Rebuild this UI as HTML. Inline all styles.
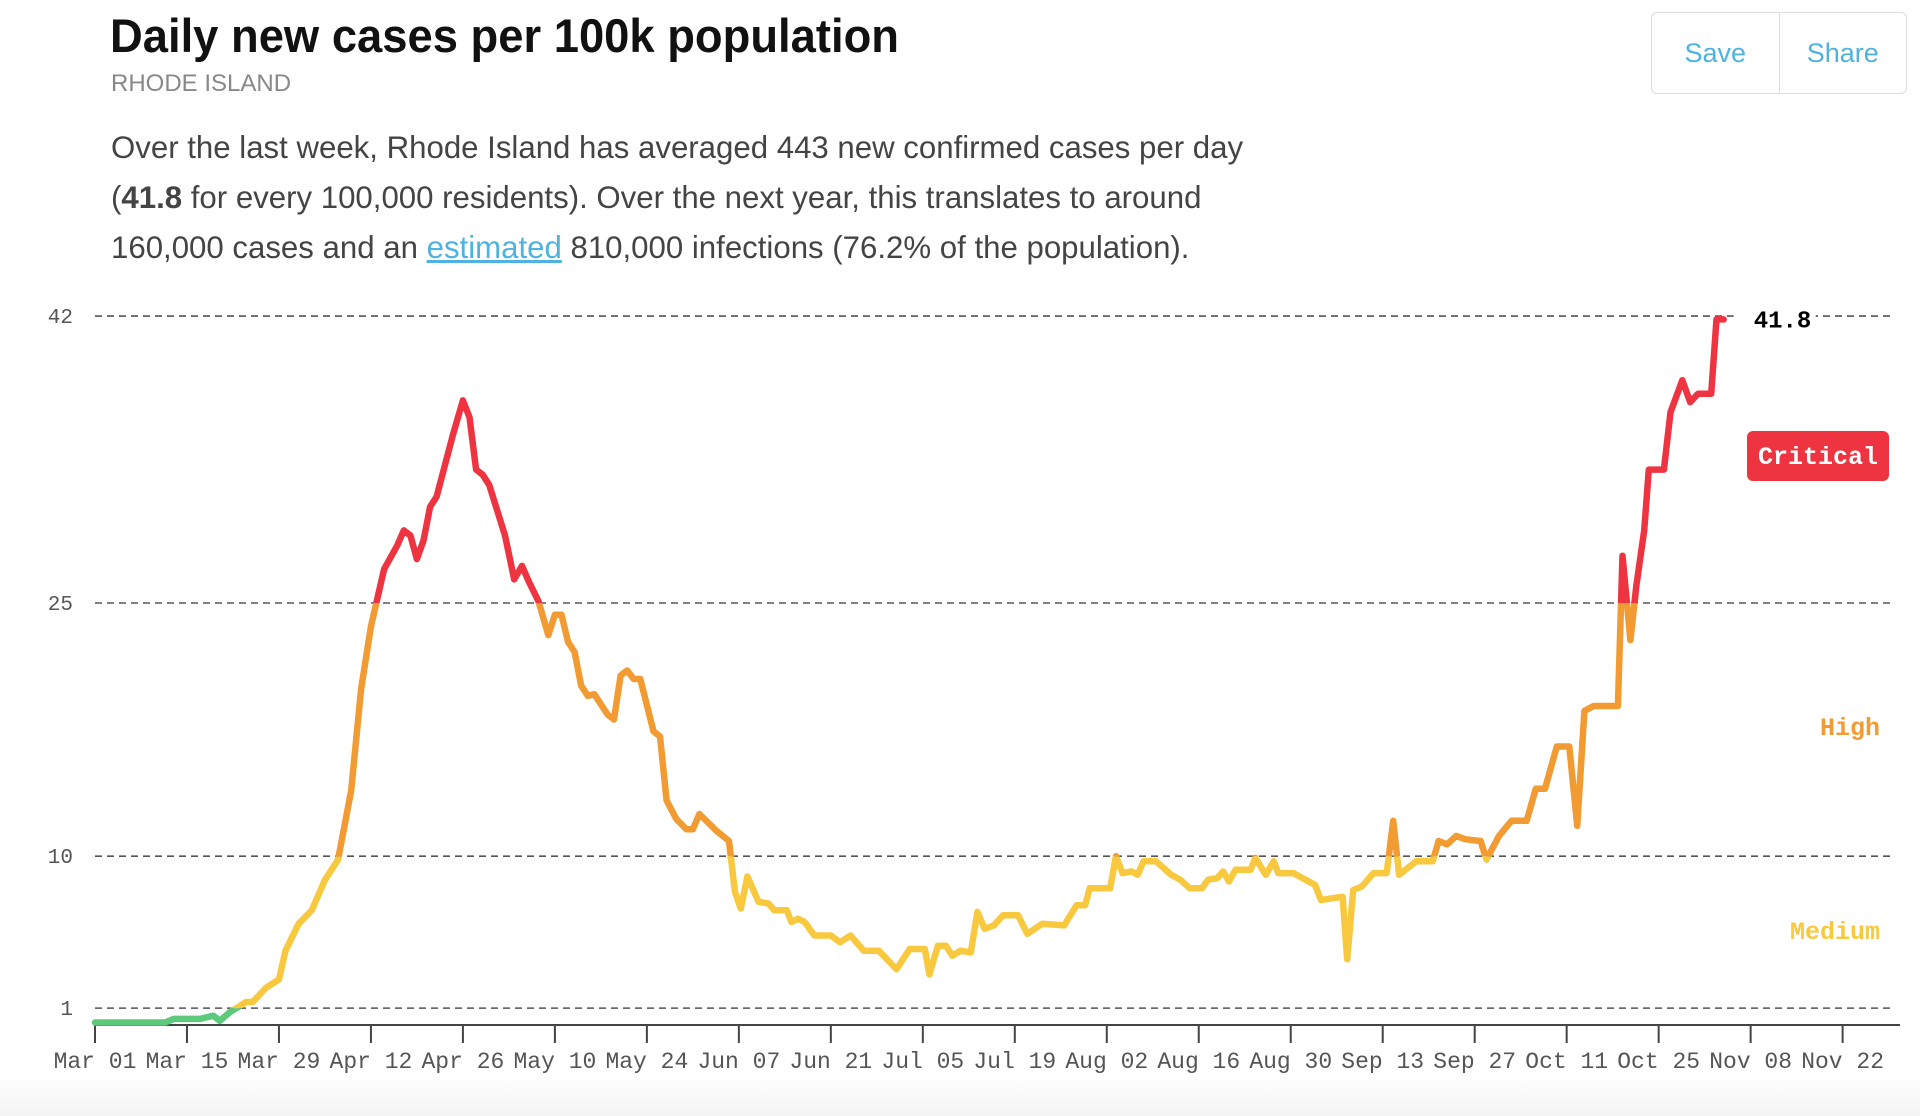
<!DOCTYPE html>
<html><head><meta charset="utf-8">
<style>
html,body{margin:0;padding:0;background:#fff;}
body{width:1920px;height:1116px;position:relative;overflow:hidden;font-family:"Liberation Sans",sans-serif;}
#title{position:absolute;left:110px;top:8px;font-size:47px;font-weight:bold;color:#111;white-space:nowrap;transform:scaleX(0.965);transform-origin:left top;margin:0;}
#sub{position:absolute;left:111px;top:70px;font-size:24px;color:#888;}
#desc{position:absolute;left:111px;top:123px;font-size:31.2px;line-height:50px;color:#444;width:1400px;}
#desc a{color:#4fb3e0;text-decoration:underline;}
#btns{position:absolute;left:1651px;top:12px;width:256px;height:82px;border:1.5px solid #ddd;border-radius:6px;display:flex;box-sizing:border-box;}
#btns div{flex:1;display:flex;align-items:center;justify-content:center;color:#4fb3e0;font-size:27px;}
#btns div+div{border-left:1.5px solid #ddd;}
#fade{position:absolute;left:0;top:1075px;width:1920px;height:41px;background:linear-gradient(#fff,#f4f4f4);}
svg{position:absolute;left:0;top:0;}
</style></head><body>
<div id="fade"></div>
<h1 id="title">Daily new cases per 100k population</h1>
<div id="sub">RHODE ISLAND</div>
<div id="desc">Over the last week, Rhode Island has averaged 443 new confirmed cases per day<br>(<b>41.8</b> for every 100,000 residents). Over the next year, this translates to around<br>160,000 cases and an <a>estimated</a> 810,000 infections (76.2% of the population).</div>
<div id="btns"><div>Save</div><div>Share</div></div>
<svg id="chart" width="1920" height="1116"></svg>
<script>
const days=[0,10.7,12,16,18,19,20.5,23,24,26,28,29,31,33,35,37,39,40.5,42,44,46,47,48,49,50,51,52,54.5,56,57,58,59,60,62.4,63.8,65,66,67.5,69,70,71,72,73,74,75,76,78,79,80,81,82,83,85,86,87,88.5,90,91,92,94.6,96.5,97.4,98.3,99.3,101,102.5,103.4,105.3,106,107,108,109.5,112,113.4,115,117,119.3,122,124,126.3,127,128.3,129.5,130.5,131.7,133.3,134.3,135.4,136.8,138.2,140.5,141.9,144.2,147.5,149.4,150.7,151.4,154.5,155.4,156.4,157.8,158.7,159.6,161.5,163.8,165.2,166.6,168.5,169.4,170.8,171.7,172.6,173.6,175.9,176.6,178.2,179.4,180.1,182.4,185.7,186.6,189.9,190.6,191.5,192.8,194.6,196.6,197.6,198.5,201.1,203.6,204.5,205.8,207.2,208.6,210.9,211.8,213.7,215.6,217.9,219.3,220.7,222.5,224.4,225.6,226.7,228.1,231.8,232.5,233.7,234.6,235.8,236.5,238.8,239.8,241.6,242.8,244,246,246.8,247.9];
const values=[0.15,0.15,0.36,0.36,0.55,0.25,0.75,1.36,1.36,2.2,2.7,4.4,6.0,6.8,8.6,9.8,13.9,19.9,23.6,27.0,28.4,29.3,29.0,27.6,28.7,30.7,31.3,35.0,37.0,36.0,32.9,32.6,32.0,29.0,26.4,27.2,26.3,25.1,23.1,24.3,24.3,22.7,22.1,20.1,19.5,19.6,18.4,18.1,20.7,21.0,20.5,20.5,17.4,17.1,13.3,12.2,11.6,11.6,12.5,11.5,10.9,7.9,6.9,8.8,7.3,7.2,6.8,6.8,6.1,6.3,6.1,5.3,5.3,4.9,5.3,4.4,4.4,3.3,4.5,4.5,3.0,4.7,4.7,4.1,4.4,4.3,6.7,5.7,5.9,6.5,6.5,5.4,6.0,5.9,7.1,7.1,8.1,8.1,10.0,9.0,9.1,8.9,9.7,9.7,8.9,8.6,8.1,8.1,8.6,8.7,9.1,8.5,9.2,9.2,9.9,8.9,9.7,9.0,9.0,8.3,7.4,7.6,3.9,8.0,8.2,9.0,9.0,12.1,8.9,9.7,9.7,10.9,10.7,11.2,11.0,10.9,9.8,11.2,12.1,12.1,14.0,14.0,16.5,16.5,11.8,18.6,18.9,18.9,27.8,22.8,26.0,29.3,32.9,32.9,36.3,38.2,36.9,37.4,37.4,41.8,41.8];
const yTicks=[1,10,25,42];
const xTickLabels=["Mar 01","Mar 15","Mar 29","Apr 12","Apr 26","May 10","May 24","Jun 07","Jun 21","Jul 05","Jul 19","Aug 02","Aug 16","Aug 30","Sep 13","Sep 27","Oct 11","Oct 25","Nov 08","Nov 22"];
const lastValue=41.8;

const NS="http://www.w3.org/2000/svg";
const svg=document.getElementById('chart');
const X0=95,PXD=6.57,Y0=1025,PXV=16.88;
const xs=d=>X0+d*PXD, ys=v=>Y0-v*PXV;
function mk(t,a,p){const e=document.createElementNS(NS,t);for(const k in a)e.setAttribute(k,a[k]);(p||svg).appendChild(e);return e;}
const mono='"Liberation Mono",monospace';
yTicks.forEach(v=>{
  const g=mk('line',{x1:95,x2:1895,y1:ys(v),y2:ys(v),stroke:'#555','stroke-width':1.6,'stroke-dasharray':'7,5'});
  
  
  const t=mk('text',{x:73,y:ys(v)+7,'text-anchor':'end','font-family':mono,'font-size':21,fill:'#555'});
  t.textContent=v;
  
  
});
const ax=mk('line',{x1:95,x2:1900,y1:Y0,y2:Y0,stroke:'#444','stroke-width':2});


xTickLabels.forEach((l,i)=>{
  const x=xs(i*14);
  const tk=mk('line',{x1:x,x2:x,y1:Y0,y2:Y0+18,stroke:'#444','stroke-width':2});
  
  
  const t=mk('text',{x:x,y:Y0+43,'text-anchor':'middle','font-family':mono,'font-size':23,fill:'#555'});
  t.textContent=l.split(' ')[0]+'  '+l.split(' ')[1];
  
  
});
const defs=mk('defs',{});
const bands=[[0,1,'#5cc97b'],[1,10,'#f8c93f'],[10,25,'#f39b33'],[25,60,'#ee3440']];
let d='';
days.forEach((dd,i)=>{d+=(i?'L':'M')+xs(dd).toFixed(1)+','+ys(values[i]).toFixed(1);});
bands.forEach((b,i)=>{
  const cp=mk('clipPath',{id:'band'+i},defs);
  mk('rect',{x:0,y:ys(b[1]),width:1920,height:ys(b[0])-ys(b[1])+(i==0?20:0)},cp);
  const p=mk('path',{d:d,fill:'none',stroke:b[2],'stroke-width':6.5,'stroke-linejoin':'round','stroke-linecap':'round','clip-path':'url(#band'+i+')'});
  
  
});
const lx=xs(days[days.length-1]);
const bg=mk('rect',{x:lx+10,y:ys(lastValue)-14,width:82,height:28,fill:'#fff'});


const lv=mk('text',{x:lx+30,y:ys(lastValue)+8,'font-family':mono,'font-size':24,'font-weight':'bold',fill:'#000'});
lv.textContent=lastValue.toFixed(1);


const cr=mk('rect',{x:1747,y:431,width:142,height:50,rx:6,fill:'#ee3440'});


const ct=mk('text',{x:1818,y:464,'text-anchor':'middle','font-family':mono,'font-size':25,'font-weight':'bold',fill:'#fff'});
ct.textContent='Critical';


const ht=mk('text',{x:1880,y:735,'text-anchor':'end','font-family':mono,'font-size':25,'font-weight':'bold',fill:'#f39b33'});
ht.textContent='High';


const mt=mk('text',{x:1880,y:939,'text-anchor':'end','font-family':mono,'font-size':25,'font-weight':'bold',fill:'#f8c93f'});
mt.textContent='Medium';


</script>
</body></html>
